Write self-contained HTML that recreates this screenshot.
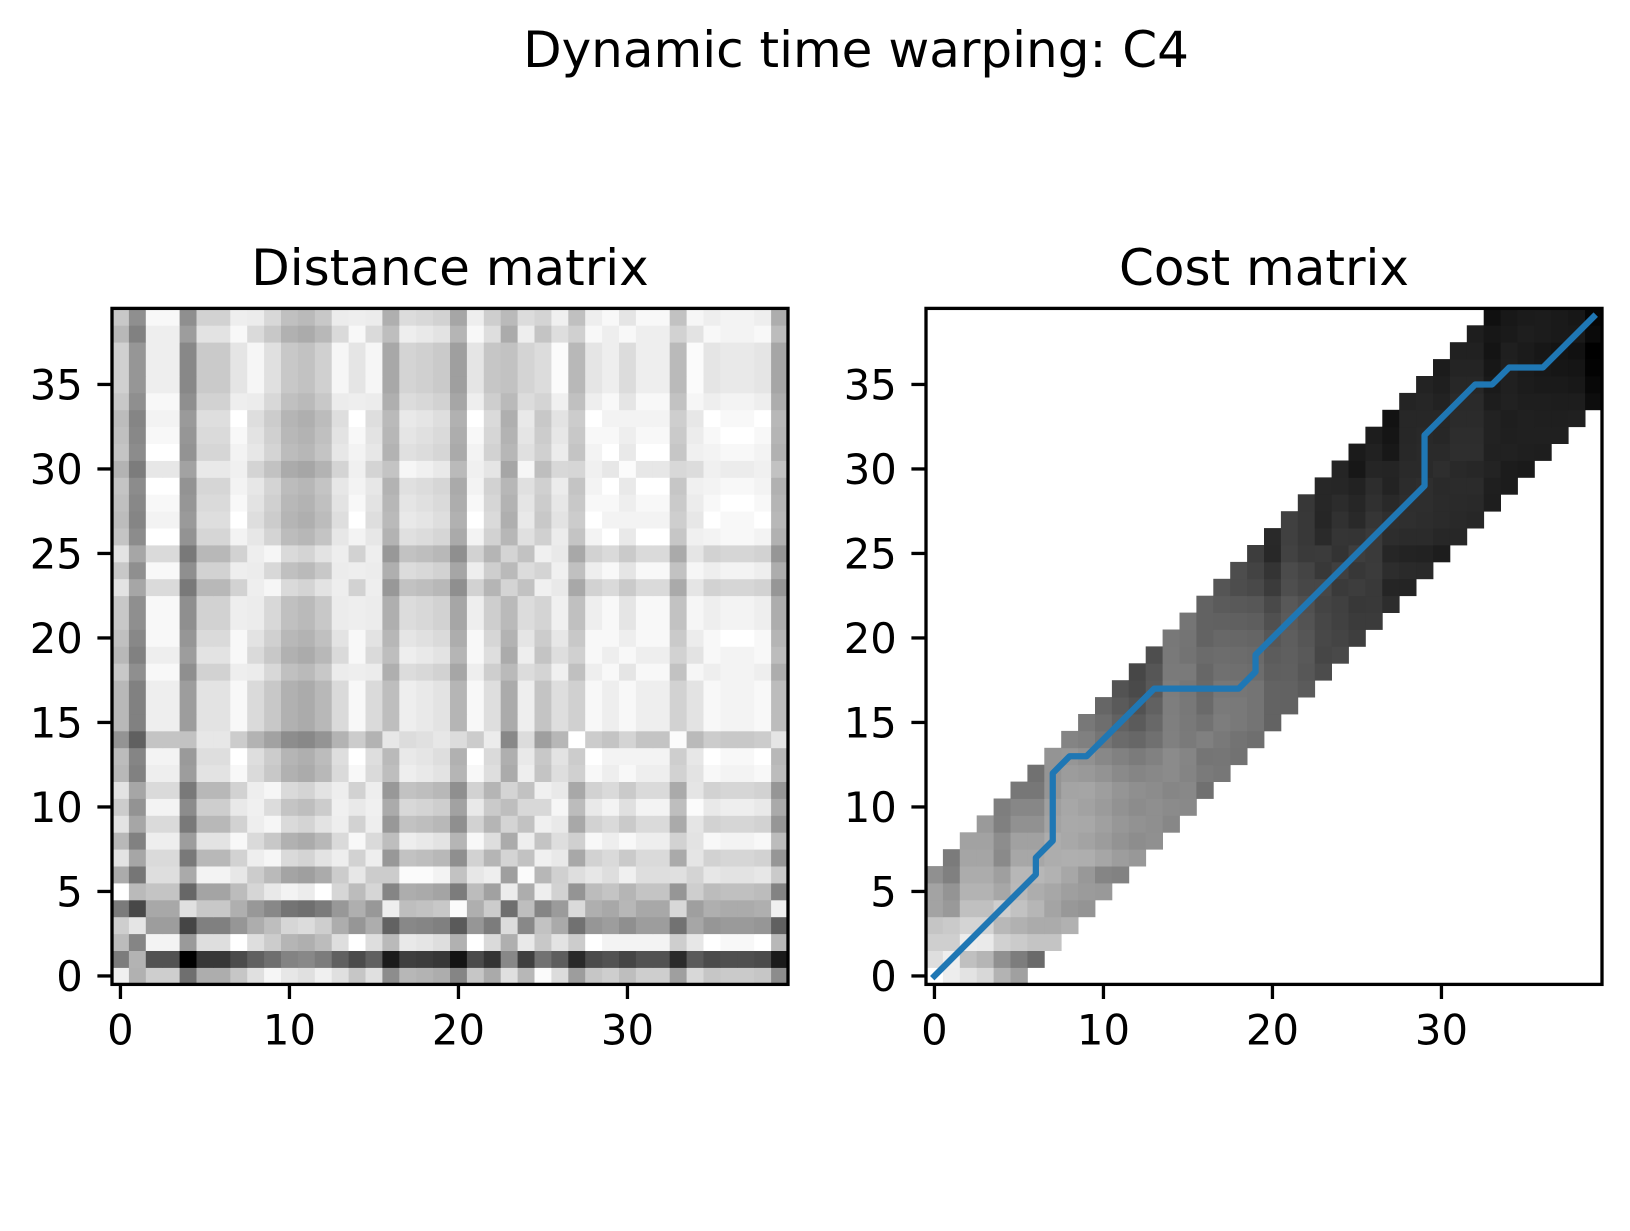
<!DOCTYPE html>
<html>
<head>
<meta charset="utf-8">
<style>
html,body{margin:0;padding:0;background:#fff;}
svg{display:block;}
text{font-family:"DejaVu Sans","Liberation Sans",sans-serif;fill:#000;}
</style>
</head>
<body>
<svg id="fig" width="1630" height="1231" viewBox="0 0 1630 1231" xmlns="http://www.w3.org/2000/svg">
  <rect width="1630" height="1231" fill="#fff"/>
  <text x="856" y="67" font-size="50" text-anchor="middle">Dynamic time warping: C4</text>
  <text x="450" y="285" font-size="50" text-anchor="middle">Distance matrix</text>
  <text x="1264" y="285" font-size="50" text-anchor="middle">Cost matrix</text>
  <g id="left"></g>
  <g id="right"></g>
</svg>
<script>
// Signal values along rows (query, y-axis) and columns (reference, x-axis)
const rowSignal = [0.26,-0.45,0.51,0,0.88,0.21,0.60,0.32,0.53,0.32,
  0.43,0.32,0.53,0.51,0.73,0.53,0.53,0.53,0.45,0.53,
  0.49,0.45,0.45,0.32,0.45,0.32,0.47,0.51,0.49,0.47,
  0.56,0.47,0.49,0.51,0.45,0.41,0.41,0.41,0.53,0.45];
const colSignal = [0.21,-0.10,0.47,0.47,1.0,0.64,0.64,0.51,0.38,0.29,
  0.17,0.14,0.21,0.38,0.51,0.38,0.82,0.59,0.61,0.64,
  0.87,0.51,0.66,0.14,0.59,0.27,0.40,0.73,0.51,0.47,
  0.55,0.47,0.47,0.72,0.42,0.51,0.49,0.49,0.51,0.83];
const bandBelow = 5;   // window: j - 5 <= i <= j + 6
const bandAbove = 6;
const pathX = [0,6,6,7,7,8,9,13,18,19,19,29,29,32,33,34,36,39];
const pathY = [0,6,7,8,12,13,13,17,17,18,19,29,32,35,35,36,36,39];
const xTicks = [0,10,20,30];
const yTicks = [0,5,10,15,20,25,30,35];

const NS = "http://www.w3.org/2000/svg";
const N = 40, AX_TOP = 308.4, AX_SIZE = 676, CELL = AX_SIZE / N;
function mk(tag, attrs, parent){
  const e = document.createElementNS(NS, tag);
  for (const k in attrs) e.setAttribute(k, attrs[k]);
  parent.appendChild(e);
  return e;
}
function xScale(left, j){ return left + (j + 0.5) * CELL; }
function yScale(i){ return AX_TOP + AX_SIZE - (i + 0.5) * CELL; }
function grayOf(v, vmin, vmax, gamma){
  let t = (v - vmin) / (vmax - vmin);
  t = Math.pow(Math.max(0, Math.min(1, t)), gamma);
  const g = Math.round(255 * (1 - t));
  return "rgb(" + g + "," + g + "," + g + ")";
}

// distance matrix
const D = [];
for (let i = 0; i < N; i++){ D.push([]); for (let j = 0; j < N; j++) D[i].push(Math.abs(rowSignal[i] - colSignal[j])); }
// cost matrix (DTW within band)
const C = [];
for (let i = 0; i < N; i++){ C.push(new Array(N).fill(Infinity)); }
for (let i = 0; i < N; i++){
  for (let j = 0; j < N; j++){
    if (i < j - bandBelow || i > j + bandAbove) continue;
    let best;
    if (i === 0 && j === 0) best = 0;
    else {
      best = Infinity;
      if (i > 0) best = Math.min(best, C[i-1][j]);
      if (j > 0) best = Math.min(best, C[i][j-1]);
      if (i > 0 && j > 0) best = Math.min(best, C[i-1][j-1]);
    }
    C[i][j] = D[i][j] + best;
  }
}

function drawAxes(g, left, M, nameBase, gamma){
  let vmin = Infinity, vmax = -Infinity;
  for (const r of M) for (const v of r) if (isFinite(v)){ vmin = Math.min(vmin, v); vmax = Math.max(vmax, v); }
  const cells = mk("g", {}, g);
  
  
  for (let i = 0; i < N; i++){
    for (let j = 0; j < N; j++){
      if (!isFinite(M[i][j])) continue;
      const r = mk("rect", {x: (xScale(left, j) - CELL/2).toFixed(2), y: (yScale(i) - CELL/2).toFixed(2),
        width: (CELL + 0.4).toFixed(2), height: (CELL + 0.4).toFixed(2), fill: grayOf(M[i][j], vmin, vmax, gamma)}, cells);
      
      
    }
  }
  const bottom = AX_TOP + AX_SIZE;
  for (const t of xTicks){
    const x = xScale(left, t);
    const tl = mk("line", {x1: x, x2: x, y1: bottom, y2: bottom + 14.6, stroke: "#000", "stroke-width": 3.3}, g);
    
    
    const tx = mk("text", {x: x, y: bottom + 60, "font-size": 41.7, "text-anchor": "middle"}, g);
    tx.textContent = String(t);
    
    
  }
  for (const t of yTicks){
    const y = yScale(t);
    const tl = mk("line", {x1: left - 14.6, x2: left, y1: y, y2: y, stroke: "#000", "stroke-width": 3.3}, g);
    
    
    const tx = mk("text", {x: left - 29.2, y: y + 15, "font-size": 41.7, "text-anchor": "end"}, g);
    tx.textContent = String(t);
    
    
  }
}

const L = document.getElementById("left"), R = document.getElementById("right");
const LEFT1 = 112, LEFT2 = 926;
drawAxes(L, LEFT1, D, 'distance', 0.85);
drawAxes(R, LEFT2, C, 'cost', 1.0);

// warping path
let pts = [];
for (let k = 0; k < pathX.length; k++) pts.push(xScale(LEFT2, pathX[k]).toFixed(2) + "," + yScale(pathY[k]).toFixed(2));
const path = mk("polyline", {points: pts.join(" "), fill: "none", stroke: "#1f77b4", "stroke-width": 6.25, "stroke-linejoin": "round", "stroke-linecap": "square"}, R);



// spines
for (const [g, left, nm] of [[L, LEFT1, 'distance-axes-frame'], [R, LEFT2, 'cost-axes-frame']]){
  const f = mk("rect", {x: left, y: AX_TOP, width: AX_SIZE, height: AX_SIZE, fill: "none", stroke: "#000", "stroke-width": 3.3}, g);
  
  
}
</script>
</body>
</html>
